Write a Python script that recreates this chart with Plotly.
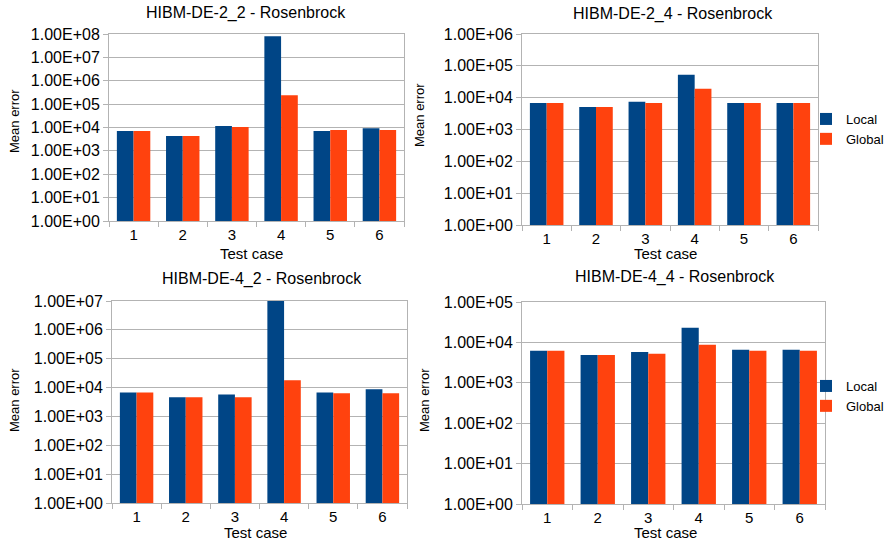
import plotly.graph_objects as go

W, H = 886, 541

categories = ["1", "2", "3", "4", "5", "6"]
series_names = ["Local", "Global"]

titles = ["HIBM-DE-2_2 - Rosenbrock", "HIBM-DE-2_4 - Rosenbrock",
          "HIBM-DE-4_2 - Rosenbrock", "HIBM-DE-4_4 - Rosenbrock"]

local_22 = [7000, 4300, 11500, 8.0e7, 7000, 9400]
global_22 = [7000, 4300, 10500, 2.4e5, 7800, 7800]

local_24 = [6800, 5100, 7400, 52000, 6800, 6800]
global_24 = [6800, 5100, 6800, 19000, 6800, 6800]

local_42 = [6800, 4600, 5800, 1.0e7, 6800, 8700]
global_42 = [6800, 4600, 4600, 17800, 6300, 6300]

local_44 = [6200, 4900, 5800, 23000, 6600, 6600]
global_44 = [6200, 4900, 5200, 8700, 6200, 6200]

y_decades = [8, 6, 7, 5]

LOCAL_C = "#004586"
GLOBAL_C = "#ff420e"
GRID = "#b3b3b3"
FONT = "Liberation Sans, Arial, sans-serif"


def px(x):
    return x / W


def py(y):
    return 1 - y / H


# plot areas in pixels: (x0, x1, ytop, ybottom)
areas = [(109, 404, 34, 221), (522, 818, 34, 225),
         (112, 407, 301, 503), (522, 825, 302, 504)]

data = [(local_22, global_22), (local_24, global_24),
        (local_42, global_42), (local_44, global_44)]

fig = go.Figure()
legends = [None, "legend", None, "legend2"]

for i, ((loc, glo), (x0, x1, yt, yb)) in enumerate(zip(data, areas)):
    n = i + 1
    xa = "x" if n == 1 else f"x{n}"
    ya = "y" if n == 1 else f"y{n}"
    show = legends[i] is not None
    for name, vals, col in ((series_names[0], loc, LOCAL_C), (series_names[1], glo, GLOBAL_C)):
        kw = dict(x=categories, y=vals, name=name, marker=dict(color=col, line=dict(width=0)),
                  xaxis=xa, yaxis=ya, showlegend=show)
        if show:
            kw["legend"] = legends[i]
        fig.add_trace(go.Bar(**kw))
    dec = y_decades[i]
    xkey = "xaxis" if n == 1 else f"xaxis{n}"
    ykey = "yaxis" if n == 1 else f"yaxis{n}"
    fig.update_layout(**{
        xkey: dict(domain=[px(x0), px(x1)], anchor=ya, type="category", automargin=False,
                   categoryorder="array", categoryarray=categories,
                   showgrid=False, showline=True, linecolor=GRID, linewidth=1, mirror=True,
                   ticks="outside", tickson="boundaries", ticklen=5, tickcolor=GRID,
                   tickfont=dict(family=FONT, size=15, color="#000000"), zeroline=False),
        ykey: dict(domain=[py(yb), py(yt)], anchor=xa, type="log", automargin=False,
                   range=[0, dec], tickvals=[10 ** k for k in range(dec + 1)],
                   ticktext=[f"1.00E+{k:02d}" for k in range(dec + 1)],
                   showgrid=True, gridcolor=GRID, gridwidth=1,
                   showline=True, linecolor=GRID, linewidth=1, mirror=True,
                   ticks="outside", ticklen=5, tickcolor=GRID,
                   tickfont=dict(family=FONT, size=16, color="#000000"), zeroline=False),
    })

# titles and axis titles (pixel centers)
title_pos = [(246, 13), (673, 14), (262, 279), (675, 277)]
xt_pos = [(251, 254), (665, 254), (256, 532), (665, 532)]
yt_pos = [(15, 121), (419, 115), (14, 400), (424, 400)]

ann = []
for i in range(4):
    tx, ty = title_pos[i]
    ann.append(dict(text=titles[i], x=px(tx), y=py(ty), xref="paper", yref="paper",
                    showarrow=False, xanchor="center", yanchor="middle",
                    font=dict(family=FONT, size=16, color="#000000")))
    tx, ty = xt_pos[i]
    ann.append(dict(text="Test case", x=px(tx), y=py(ty), xref="paper", yref="paper",
                    showarrow=False, xanchor="center", yanchor="middle",
                    font=dict(family=FONT, size=15, color="#000000")))
    tx, ty = yt_pos[i]
    ann.append(dict(text="Mean error", x=px(tx), y=py(ty), xref="paper", yref="paper",
                    showarrow=False, xanchor="center", yanchor="middle", textangle=-90,
                    font=dict(family=FONT, size=13, color="#000000")))

leg_common = dict(xanchor="left", yanchor="middle", bgcolor="rgba(0,0,0,0)",
                  font=dict(family=FONT, size=13, color="#000000"), itemwidth=30,
                  traceorder="normal")

fig.update_layout(
    width=W, height=H,
    margin=dict(l=0, r=0, t=0, b=0, autoexpand=False),
    paper_bgcolor="white", plot_bgcolor="white",
    barmode="group", bargap=0.32, bargroupgap=0,
    annotations=ann,
    legend=dict(x=px(806), y=py(129), **leg_common),
    legend2=dict(x=px(806), y=py(396), **leg_common),
)

# remove the default 8px page margin so the figure fills the window exactly
fig.write_html("out.html", config={"displayModeBar": False},
               post_script="document.body.style.margin='0px';document.body.style.overflow='hidden';")
